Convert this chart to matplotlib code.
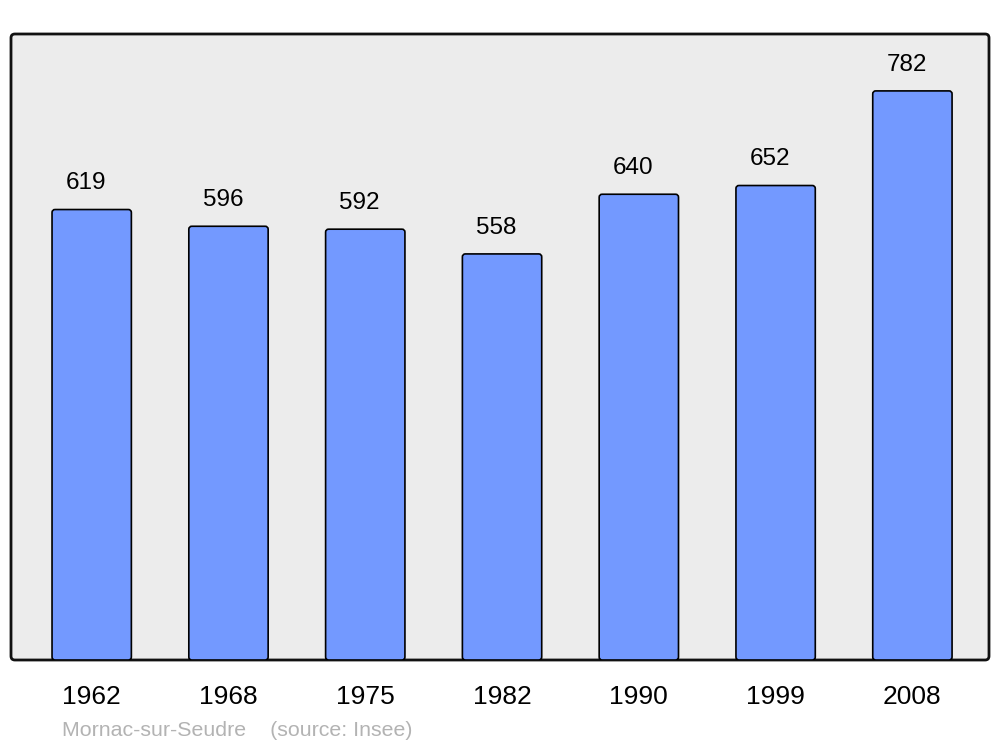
import matplotlib
matplotlib.use("Agg")
import matplotlib.pyplot as plt
from matplotlib.patches import FancyBboxPatch

years = ["1962", "1968", "1975", "1982", "1990", "1999", "2008"]
population = [619, 596, 592, 558, 640, 652, 782]
commune = "Mornac-sur-Seudre"
source = "(source: Insee)"

plt.rcParams['font.family'] = ['Liberation Sans', 'DejaVu Sans']

fig = plt.figure(figsize=(10, 7.47), dpi=100)
ax = fig.add_axes([0.011, 1 - 660 / 747, 0.978, (660 - 34) / 747])
ax.set_facecolor('none')

x = list(range(len(years)))
ax.set_xlim(-0.59, 6.56)
ax.set_ylim(0, max(population) * 1.1)

# rounded background frame
frame = FancyBboxPatch((0, 0), 1, 1, boxstyle="round,pad=0,rounding_size=0.004",
                       transform=ax.transAxes, facecolor='#ececec', edgecolor='#111111',
                       linewidth=2.0, clip_on=False, zorder=0, mutation_aspect=978 / 626)
ax.add_patch(frame)

bars = ax.bar(x, population, width=0.58, color='#7399ff', edgecolor='black', linewidth=1.2)
fig.canvas.draw()
# convert bars to rounded patches
xpp = (ax.get_xlim()[1] - ax.get_xlim()[0]) / 978.0
ypp = (ax.get_ylim()[1] - ax.get_ylim()[0]) / 626.0
for b in bars:
    b.set_visible(False)
    rb = FancyBboxPatch((b.get_x(), b.get_y()), b.get_width(), b.get_height(),
                        boxstyle="round,pad=0,rounding_size=%f" % (3 * xpp),
                        mutation_aspect=ypp / xpp,
                        facecolor='#7399ff', edgecolor='black', linewidth=1.2, zorder=2)
    ax.add_patch(rb)

for xi, v in zip(x, population):
    ax.annotate(str(v), (xi, v), xytext=(-4, 19), textcoords='offset points',
                ha='center', va='center', fontsize=17.5, color='black')

for s in ax.spines.values():
    s.set_visible(False)
ax.set_yticks([])
ax.set_xticks(x)
ax.set_xticklabels(years, fontsize=19)
ax.tick_params(axis='x', length=0, pad=18)

fig.text(62 / 1000, 1 - 730 / 747, commune + "    " + source, fontsize=15.4,
         color='#b3b3b3', ha='left', va='center')

fig.savefig("out.png", dpi=100)
